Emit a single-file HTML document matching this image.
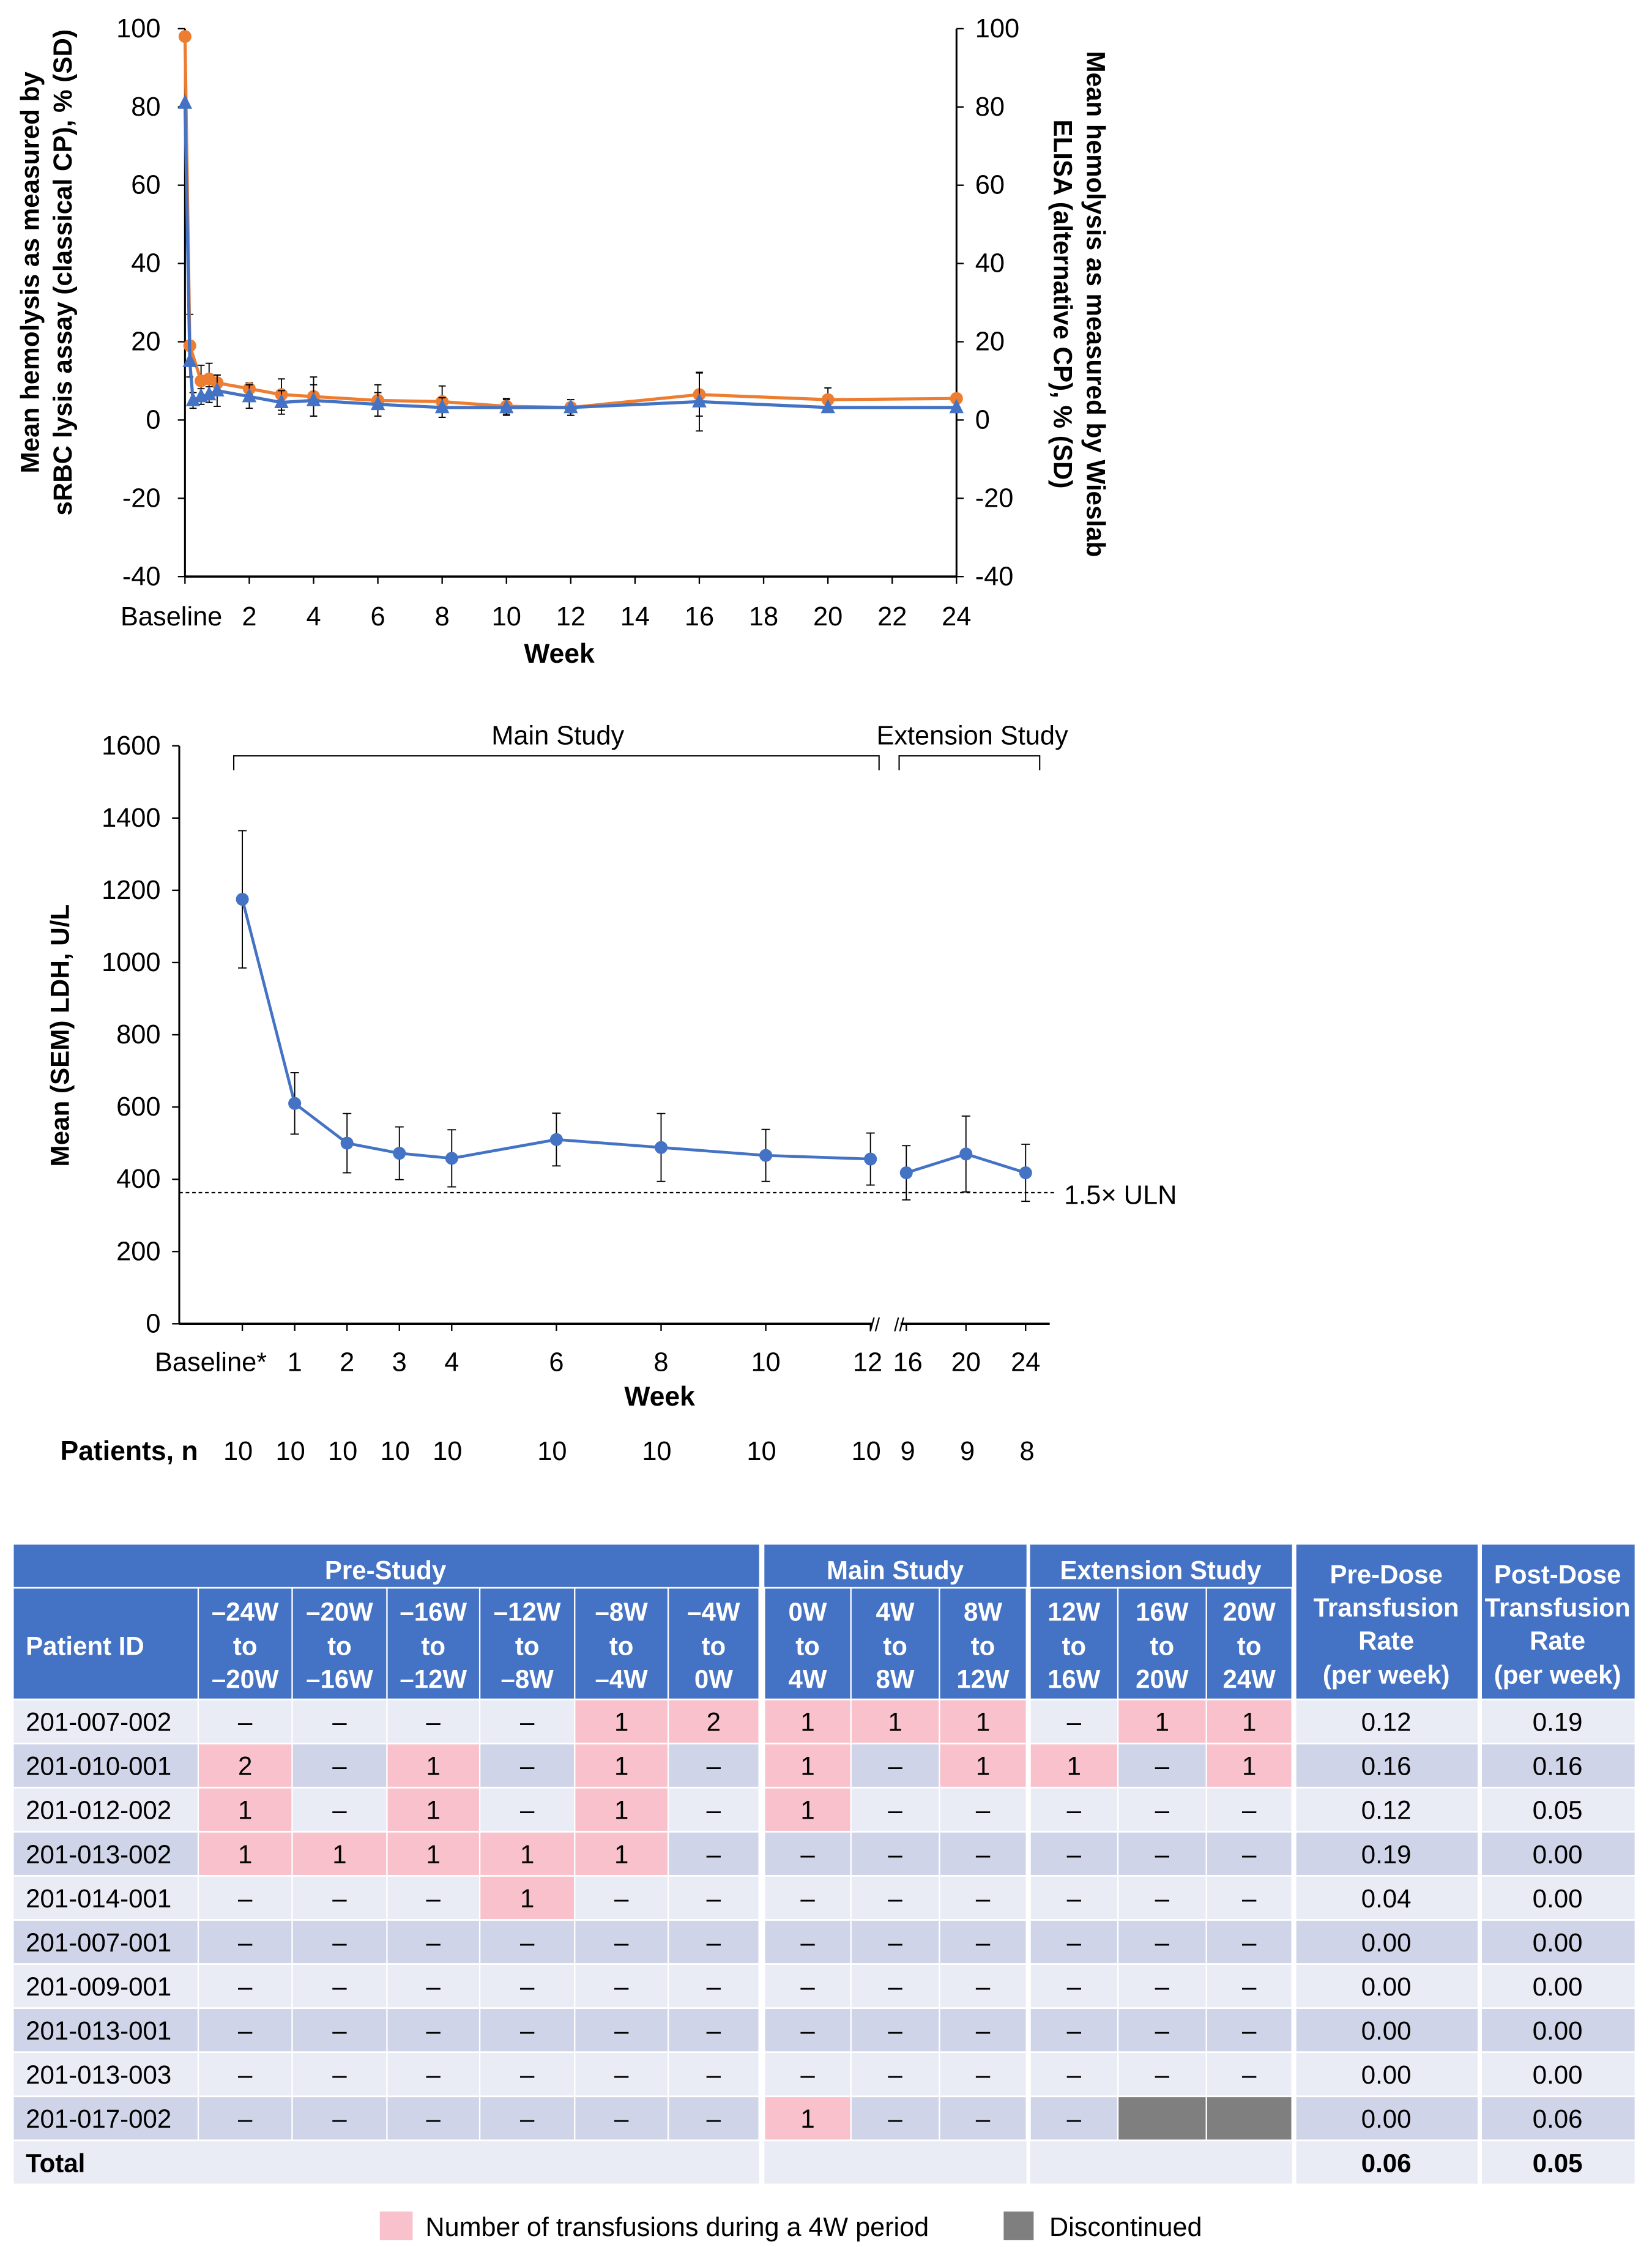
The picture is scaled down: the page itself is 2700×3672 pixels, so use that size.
<!DOCTYPE html>
<html><head><meta charset="utf-8"><style>
html,body{margin:0;padding:0;background:#fff}
svg{display:block;font-family:"Liberation Sans",Arial,sans-serif}
</style></head><body>
<svg id="fig" width="2700" height="3672" viewBox="0 0 1152 1566.72" preserveAspectRatio="none" xmlns="http://www.w3.org/2000/svg">
<g id="c1"></g>
<g id="c2"></g>
<g id="tb" transform="translate(0.05,0) scale(0.9955,1)"></g>
</svg>
<script>
// ---- Chart 1 data ----
const c1TicksY = [100,80,60,40,20,0,-20,-40];
const c1TicksX = [0,2,4,6,8,10,12,14,16,18,20,22,24];
const c1TickLabelsX = ["Baseline","2","4","6","8","10","12","14","16","18","20","22","24"];
const orangeWeeks = [0,0.15,0.5,0.75,1,2,3,4,6,8,10,12,16,20,24];
const orangeVals = [98,19,10,10.5,9.5,8,6.5,6,5,4.7,3.5,3.2,6.5,5.2,5.5];
const orangeSD = [0,8,4,4,2,1.5,4,5,4,4,2,2,5.5,3,0];
const blueWeeks = [0,0.15,0.25,0.5,0.75,1,2,3,4,6,8,10,12,16,20,24];
const blueVals = [81,15,5,6,6.5,7.5,6,4.5,5,4,3.2,3.2,3.2,4.7,3.2,3.2];
const blueSD = [0,0,2,2,2,4,3,3,4,3,2.5,2,2,7.5,0,0];
// ---- Chart 2 data ----
const ldhLabels = ["Baseline*","1","2","3","4","6","8","10","12","16","20","24"];
const ldhWeeks = [0,1,2,3,4,6,8,10,12,16,20,24];
const ldhVals = [1175,610,500,472,458,510,488,466,456,418,470,418];
const ldhSEM = [190,85,82,73,79,73,94,72,72,75,105,79];
const ldhN = ["10","10","10","10","10","10","10","10","10","9","9","8"];
const ldhTicksY = [0,200,400,600,800,1000,1200,1400,1600];
const ulnValue = 363;
// ---- Table data ----
const patients = ["201-007-002","201-010-001","201-012-002","201-013-002","201-014-001","201-007-001","201-009-001","201-013-001","201-013-003","201-017-002"];
const cells = [
 ["–","–","–","–","1","2","1","1","1","–","1","1"],
 ["2","–","1","–","1","–","1","–","1","1","–","1"],
 ["1","–","1","–","1","–","1","–","–","–","–","–"],
 ["1","1","1","1","1","–","–","–","–","–","–","–"],
 ["–","–","–","1","–","–","–","–","–","–","–","–"],
 ["–","–","–","–","–","–","–","–","–","–","–","–"],
 ["–","–","–","–","–","–","–","–","–","–","–","–"],
 ["–","–","–","–","–","–","–","–","–","–","–","–"],
 ["–","–","–","–","–","–","–","–","–","–","–","–"],
 ["–","–","–","–","–","–","1","–","–","–","D","D"]];
const preRate = ["0.12","0.16","0.12","0.19","0.04","0.00","0.00","0.00","0.00","0.00"];
const postRate = ["0.19","0.16","0.05","0.00","0.00","0.00","0.00","0.00","0.00","0.06"];
const totals = ["0.06","0.05"];
const periodTop = ["–24W","–20W","–16W","–12W","–8W","–4W","0W","4W","8W","12W","16W","20W"];
const periodBot = ["–20W","–16W","–12W","–8W","–4W","0W","4W","8W","12W","16W","20W","24W"];

const NS="http://www.w3.org/2000/svg";
function mk(p,tag,at,txt){const e=document.createElementNS(NS,tag);for(const k in at)e.setAttribute(k,at[k]);if(txt!==undefined)e.textContent=txt;p.appendChild(e);return e;}
const BLUE="#4472c4",ORANGE="#ed7d31";

// ===== Chart 1 =====
(function(){
 const g=document.getElementById('c1');
 const X=w=>129+w*(538/24), Y=v=>20+(100-v)*(382/140);
 let e;
 e=mk(g,'line',{x1:129,y1:Y(100),x2:129,y2:Y(-40),stroke:'#000','stroke-width':1.3});
 
 e=mk(g,'line',{x1:667,y1:Y(100),x2:667,y2:Y(-40),stroke:'#000','stroke-width':1.3});
 
 e=mk(g,'line',{x1:129,y1:Y(-40),x2:667,y2:Y(-40),stroke:'#000','stroke-width':1.5});
 
 c1TicksY.forEach(v=>{
  mk(g,'line',{x1:124,y1:Y(v),x2:129,y2:Y(v),stroke:'#000'});
  mk(g,'line',{x1:667,y1:Y(v),x2:672,y2:Y(v),stroke:'#000'});
  e=mk(g,'text',{x:112,y:Y(v)+6,'text-anchor':'end','font-size':18.5},v);
  
  e=mk(g,'text',{x:680,y:Y(v)+6,'font-size':18.5},v);
  
 });
 c1TicksX.forEach((w,i)=>{
  mk(g,'line',{x1:X(w),y1:Y(-40),x2:X(w),y2:Y(-40)+5,stroke:'#000'});
  e=mk(g,'text',i==0?{x:155,y:436,'text-anchor':'end','font-size':18.5}:{x:X(w),y:436,'text-anchor':'middle','font-size':18.5},c1TickLabelsX[i]);
  
 });
 e=mk(g,'text',{x:390,y:462,'text-anchor':'middle','font-size':19,'font-weight':'bold'},'Week');
 
 e=mk(g,'text',{transform:'translate(27,190) rotate(-90)','text-anchor':'middle','font-size':18,'font-weight':'bold'},'Mean hemolysis as measured by');
 
 mk(g,'text',{transform:'translate(50,190) rotate(-90)','text-anchor':'middle','font-size':18,'font-weight':'bold'},'sRBC lysis assay (classical CP), % (SD)');
 e=mk(g,'text',{transform:'translate(758,212) rotate(90)','text-anchor':'middle','font-size':18,'font-weight':'bold'},'Mean hemolysis as measured by Wieslab');
 
 mk(g,'text',{transform:'translate(735,212) rotate(90)','text-anchor':'middle','font-size':18,'font-weight':'bold'},'ELISA (alternative CP), % (SD)');
 function series(ws,vs,sd,col,shape,name){
  const sg=mk(g,'g',{});
  
  ws.forEach((w,i)=>{ if(sd[i]>0){
   mk(sg,'line',{x1:X(w),y1:Y(vs[i]+sd[i]),x2:X(w),y2:Y(vs[i]-sd[i]),stroke:'#000','stroke-width':0.8});
   mk(sg,'line',{x1:X(w)-2.5,y1:Y(vs[i]+sd[i]),x2:X(w)+2.5,y2:Y(vs[i]+sd[i]),stroke:'#000','stroke-width':0.8});
   mk(sg,'line',{x1:X(w)-2.5,y1:Y(vs[i]-sd[i]),x2:X(w)+2.5,y2:Y(vs[i]-sd[i]),stroke:'#000','stroke-width':0.8});}});
  mk(sg,'polyline',{points:ws.map((w,i)=>X(w)+','+Y(vs[i])).join(' '),fill:'none',stroke:col,'stroke-width':2.2});
  ws.forEach((w,i)=>{
   let m;
   if(shape=='c') m=mk(sg,'circle',{cx:X(w),cy:Y(vs[i]),r:4.5,fill:col});
   else m=mk(sg,'polygon',{points:`${X(w)},${Y(vs[i])-6} ${X(w)-5},${Y(vs[i])+4} ${X(w)+5},${Y(vs[i])+4}`,fill:col});
   
  });
 }
 series(orangeWeeks,orangeVals,orangeSD,ORANGE,'c','srbc-series');
 series(blueWeeks,blueVals,blueSD,BLUE,'t','wieslab-series');
})();

// ===== Chart 2 =====
(function(){
 const g=document.getElementById('c2');
 const X=w=>w<=12?169+w*36.5:632+(w-16)*10.4;
 const Y=v=>923-v*(403/1600);
 let e;
 e=mk(g,'line',{x1:125,y1:Y(1600),x2:125,y2:Y(0),stroke:'#000','stroke-width':1.3});
 
 e=mk(g,'line',{x1:125,y1:Y(0),x2:608,y2:Y(0),stroke:'#000','stroke-width':1.5});
 
 mk(g,'line',{x1:628,y1:Y(0),x2:732,y2:Y(0),stroke:'#000','stroke-width':1.5});
 mk(g,'text',{x:610,y:Y(0)+5,'font-size':13,'text-anchor':'middle'},'//');
 mk(g,'text',{x:627,y:Y(0)+5,'font-size':13,'text-anchor':'middle'},'//');
 ldhTicksY.forEach(v=>{
  mk(g,'line',{x1:120,y1:Y(v),x2:125,y2:Y(v),stroke:'#000'});
  e=mk(g,'text',{x:112,y:Y(v)+6,'text-anchor':'end','font-size':18.5},v);
  
 });
 ldhWeeks.forEach((w,i)=>{
  mk(g,'line',{x1:X(w),y1:Y(0),x2:X(w),y2:Y(0)+5,stroke:'#000'});
  let lx=X(w); if(i==0) lx-=22; if(i==8) lx-=2; if(i==9) lx+=1;
  e=mk(g,'text',{x:lx,y:956,'text-anchor':'middle','font-size':18.5},ldhLabels[i]);
  
  e=mk(g,'text',{x:X(w)-3+(i>=9?4:0),y:1018,'text-anchor':'middle','font-size':18.5},ldhN[i]);
  
 });
 e=mk(g,'text',{x:460,y:980,'text-anchor':'middle','font-size':19,'font-weight':'bold'},'Week');
 
 e=mk(g,'text',{x:42,y:1018,'font-size':19,'font-weight':'bold'},'Patients, n');
 
 e=mk(g,'text',{transform:'translate(48,722) rotate(-90)','text-anchor':'middle','font-size':18,'font-weight':'bold'},'Mean (SEM) LDH, U/L');
 
 e=mk(g,'line',{x1:125,y1:Y(ulnValue),x2:735,y2:Y(ulnValue),stroke:'#000','stroke-width':1,'stroke-dasharray':'2.5,2'});
 
 e=mk(g,'text',{x:742,y:Y(ulnValue)+8,'font-size':18.5},'1.5× ULN');
 
 e=mk(g,'path',{d:'M163,537 V527 H613 V537',fill:'none',stroke:'#000','stroke-width':0.9});
 
 e=mk(g,'path',{d:'M627,537 V527 H725 V537',fill:'none',stroke:'#000','stroke-width':0.9});
 
 e=mk(g,'text',{x:389,y:519,'text-anchor':'middle','font-size':18.5},'Main Study');
 
 e=mk(g,'text',{x:678,y:519,'text-anchor':'middle','font-size':18.5},'Extension Study');
 
 ldhWeeks.forEach((w,i)=>{
  const x=X(w),t=Y(ldhVals[i]+ldhSEM[i]),b=Y(ldhVals[i]-ldhSEM[i]);
  mk(g,'line',{x1:x,y1:t,x2:x,y2:b,stroke:'#000','stroke-width':0.8});
  mk(g,'line',{x1:x-3,y1:t,x2:x+3,y2:t,stroke:'#000','stroke-width':0.8});
  mk(g,'line',{x1:x-3,y1:b,x2:x+3,y2:b,stroke:'#000','stroke-width':0.8});
 });
 const main=ldhWeeks.map((w,i)=>i).filter(i=>ldhWeeks[i]<=12), ext=ldhWeeks.map((w,i)=>i).filter(i=>ldhWeeks[i]>12);
 [main,ext].forEach(ix=>{
  e=mk(g,'polyline',{points:ix.map(i=>X(ldhWeeks[i])+','+Y(ldhVals[i])).join(' '),fill:'none',stroke:BLUE,'stroke-width':2});
  
 });
 ldhWeeks.forEach((w,i)=>{
  e=mk(g,'circle',{cx:X(w),cy:Y(ldhVals[i]),r:4.5,fill:BLUE});
  
 });
})();

// ===== Table =====
(function(){
 const g=document.getElementById('tb');
 const colL=[138.8,204.6,271,336,402.5,468,535.4,596,658,721.5,783,845];
 const colR=[204.6,271,336,402.5,468,531.7,596,658,719,783,845,905];
 const top=1077,mid=1107.6,dataTop=1185.5,rh=30.75;
 const HB=BLUE,L='#e9ecf5',D='#cfd4e8',P='#f8c1cc',GR='#7f7f7f';
 const gap=1.2;
 let e;
 function rect(x1,y1,x2,y2,f,name){const r=mk(g,'rect',{x:x1,y:y1,width:x2-x1,height:y2-y1,fill:f});if(name){}return r;}
 function txt(x,y,s,o){o=o||{};const t=mk(g,'text',Object.assign({x:x,y:y,'text-anchor':'middle','font-size':17.5},o),s);return t;}
 rect(9.6,top,531.7,mid-gap,HB,'pre-study-header');
 rect(535.4,top,719,mid-gap,HB,'main-study-header');
 rect(721.5,top,905,mid-gap,HB,'extension-study-header');
 rect(908,top,1035,dataTop-gap,HB,'pre-dose-header');
 rect(1038,top,1145,dataTop-gap,HB,'post-dose-header');
 rect(9.6,mid,138.8-0.5,dataTop-gap,HB,'patient-id-header');
 colL.forEach((x,i)=>rect(x+0.5,mid,colR[i]-0.5,dataTop-gap,HB,'period-header'));
 const W={fill:'#fff','font-weight':'bold','font-size':18};
 txt(270,1101,'Pre-Study',W);txt(627,1101,'Main Study',W);txt(813,1101,'Extension Study',W);
 txt(971,1104,'Pre-Dose',W);txt(971,1127,'Transfusion',W);txt(971,1150,'Rate',W);txt(971,1174,'(per week)',W);
 txt(1091,1104,'Post-Dose',W);txt(1091,1127,'Transfusion',W);txt(1091,1150,'Rate',W);txt(1091,1174,'(per week)',W);
 txt(18,1154,'Patient ID',Object.assign({'text-anchor':'start'},W));
 colL.forEach((x,i)=>{const cx=(x+colR[i])/2;txt(cx,1130,periodTop[i],W);txt(cx,1154,'to',W);txt(cx,1177,periodBot[i],W);});
 patients.forEach((p,r)=>{
  const y1=dataTop+r*rh,y2=y1+rh-gap,bg=r%2?D:L,cy=y1+rh/2+6;
  rect(9.6,y1,138.3,y2,bg,'patient-id-cell');
  e=txt(18,cy,p,{'text-anchor':'start','font-size':18});
  cells[r].forEach((v,c)=>{
   const f=v=='D'?GR:(v=='–'?bg:P);
   rect(colL[c]+0.5,y1,colR[c]-0.5,y2,f,'transfusion-cell');
   if(v!='D') txt((colL[c]+colR[c])/2,cy,v,{'font-size':18});
  });
  rect(908,y1,1035,y2,bg,'pre-rate-cell');txt(971,cy,preRate[r],{'font-size':18});
  rect(1038,y1,1145,y2,bg,'post-rate-cell');txt(1091,cy,postRate[r],{'font-size':18});
 });
 const ty1=dataTop+10*rh,ty2=ty1+rh-gap,tcy=ty1+rh/2+6;
 rect(9.6,ty1,531.7,ty2,L,'total-row');rect(535.4,ty1,719,ty2,L);rect(721.5,ty1,905,ty2,L);
 rect(908,ty1,1035,ty2,L);rect(1038,ty1,1145,ty2,L);
 txt(18,tcy,'Total',{'text-anchor':'start','font-weight':'bold','font-size':18});
 txt(971,tcy,totals[0],{'font-weight':'bold','font-size':18});txt(1091,tcy,totals[1],{'font-weight':'bold','font-size':18});
 rect(266,1542,289,1562,P,'legend-swatch-transfusions');
 e=txt(298,1559,'Number of transfusions during a 4W period',{'text-anchor':'start','font-size':18.5});
 
 rect(703,1542,724,1562,GR,'legend-swatch-discontinued');
 e=txt(735,1559,'Discontinued',{'text-anchor':'start','font-size':18.5});
 
})();
</script>
</body></html>
